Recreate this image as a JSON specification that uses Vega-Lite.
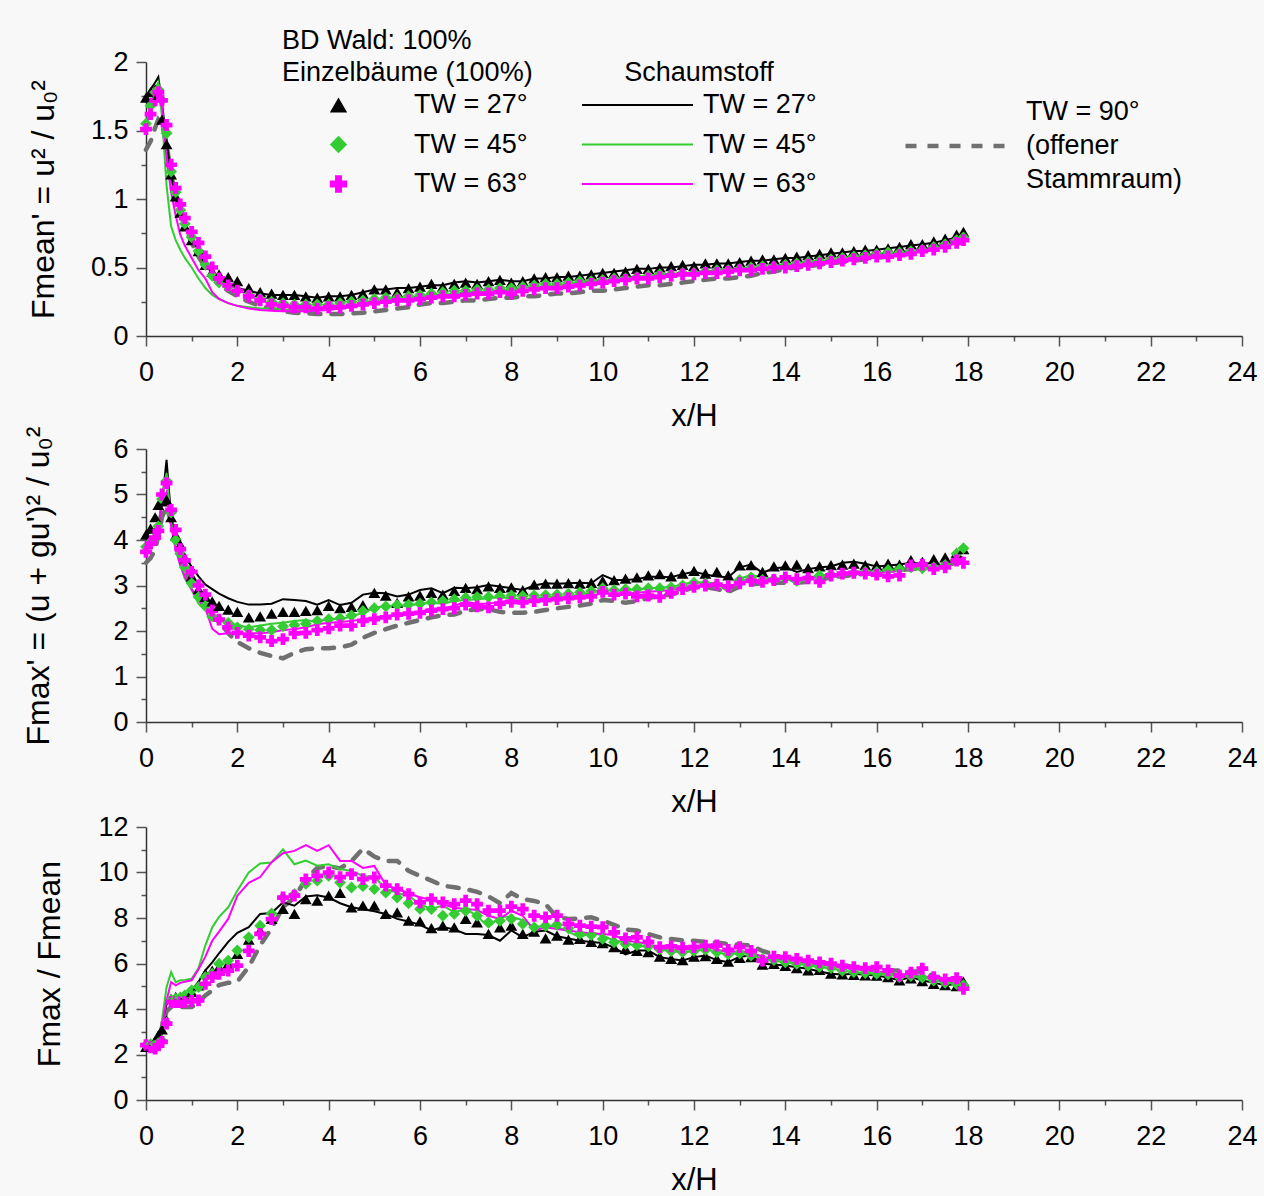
{
"$schema":"https://vega.github.io/schema/vega-lite/v6.json",
"background":"#f8f8f8",
"autosize":{"type":"none"},
"padding":{"left":146,"top":62,"right":1118,"bottom":1134},
"bounds":"flush",
"spacing":105,
"config":{"font":"Liberation Sans","view":{"stroke":null},
"axis":{"grid":false,"domainColor":"#333333","domainWidth":1.5,"tickColor":"#555555","tickWidth":1.5,"labelColor":"#000000","titleColor":"#000000","labelFontSize":27,"titleFontSize":31,"titleFontWeight":"normal","labelOverlap":false,"labelFlush":false,"format":"~g"},
"legend":{"labelFontSize":27,"titleFontSize":27,"titleFontWeight":"normal","labelColor":"#000000","titleColor":"#000000","labelLimit":400,"titleLimit":400}},
"resolve":{"scale":{"color":"independent","shape":"independent","stroke":"independent","strokeDash":"independent"}},
"datasets":{"all":[
{"p":1,"x":0,"E27":1.74,"E45":1.55,"E63":1.51,"S27":1.75,"S45":1.55,"S63":1.53,"S90":1.36},
{"p":1,"x":0.1,"E27":1.78,"E45":1.68,"E63":1.62,"S27":1.8,"S45":1.68,"S63":1.64,"S90":1.42},
{"p":1,"x":0.2,"E27":1.8,"E45":1.78,"E63":1.72,"S27":1.85,"S45":1.8,"S63":1.74,"S90":1.52},
{"p":1,"x":0.27,"E27":1.76,"E45":1.8,"E63":1.78,"S27":1.89,"S45":1.85,"S63":1.8,"S90":1.58},
{"p":1,"x":0.35,"E27":1.58,"E45":1.72,"E63":1.72,"S27":1.7,"S45":1.6,"S63":1.7,"S90":1.55},
{"p":1,"x":0.45,"E27":1.4,"E45":1.48,"E63":1.54,"S27":1.42,"S45":1.1,"S63":1.3,"S90":1.4},
{"p":1,"x":0.55,"E27":1.18,"E45":1.2,"E63":1.25,"S27":1.18,"S45":0.8,"S63":1.05,"S90":1.18},
{"p":1,"x":0.65,"E27":1.02,"E45":1.05,"E63":1.08,"S27":1.02,"S45":0.7,"S63":0.88,"S90":1.02},
{"p":1,"x":0.75,"E27":0.9,"E45":0.92,"E63":0.96,"S27":0.9,"S45":0.63,"S63":0.74,"S90":0.9},
{"p":1,"x":0.85,"E27":0.8,"E45":0.82,"E63":0.86,"S27":0.82,"S45":0.57,"S63":0.66,"S90":0.8},
{"p":1,"x":1,"E27":0.7,"E45":0.72,"E63":0.76,"S27":0.72,"S45":0.5,"S63":0.57,"S90":0.68},
{"p":1,"x":1.15,"E27":0.62,"E45":0.62,"E63":0.68,"S27":0.62,"S45":0.42,"S63":0.48,"S90":0.58},
{"p":1,"x":1.3,"E27":0.52,"E45":0.52,"E63":0.58,"S27":0.52,"S45":0.35,"S63":0.42,"S90":0.5},
{"p":1,"x":1.45,"E27":0.47,"E45":0.44,"E63":0.5,"S27":0.46,"S45":0.3,"S63":0.32,"S90":0.44},
{"p":1,"x":1.6,"E27":0.45,"E45":0.39,"E63":0.42,"S27":0.42,"S45":0.27,"S63":0.27,"S90":0.38},
{"p":1,"x":1.8,"E27":0.43,"E45":0.36,"E63":0.37,"S27":0.38,"S45":0.24,"S63":0.24,"S90":0.33},
{"p":1,"x":2,"E27":0.4,"E45":0.33,"E63":0.33,"S27":0.35,"S45":0.22,"S63":0.22,"S90":0.29},
{"p":1,"x":2.25,"E27":0.35,"E45":0.3,"E63":0.29,"S27":0.33,"S45":0.21,"S63":0.2,"S90":0.25},
{"p":1,"x":2.5,"E27":0.32,"E45":0.27,"E63":0.26,"S27":0.31,"S45":0.2,"S63":0.19,"S90":0.22},
{"p":1,"x":2.75,"E27":0.31,"E45":0.25,"E63":0.23,"S27":0.3,"S45":0.2,"S63":0.185,"S90":0.2},
{"p":1,"x":3,"E27":0.3,"E45":0.24,"E63":0.22,"S27":0.3,"S45":0.195,"S63":0.18,"S90":0.18},
{"p":1,"x":3.25,"E27":0.3,"E45":0.23,"E63":0.21,"S27":0.3,"S45":0.19,"S63":0.18,"S90":0.17},
{"p":1,"x":3.5,"E27":0.29,"E45":0.23,"E63":0.21,"S27":0.29,"S45":0.19,"S63":0.18,"S90":0.165},
{"p":1,"x":3.75,"E27":0.28,"E45":0.23,"E63":0.2,"S27":0.28,"S45":0.195,"S63":0.185,"S90":0.16},
{"p":1,"x":4,"E27":0.29,"E45":0.23,"E63":0.21,"S27":0.29,"S45":0.2,"S63":0.19,"S90":0.16},
{"p":1,"x":4.25,"E27":0.29,"E45":0.24,"E63":0.21,"S27":0.29,"S45":0.21,"S63":0.2,"S90":0.16},
{"p":1,"x":4.5,"E27":0.3,"E45":0.25,"E63":0.22,"S27":0.3,"S45":0.22,"S63":0.21,"S90":0.165},
{"p":1,"x":4.75,"E27":0.31,"E45":0.26,"E63":0.23,"S27":0.32,"S45":0.24,"S63":0.23,"S90":0.17},
{"p":1,"x":5,"E27":0.34,"E45":0.27,"E63":0.24,"S27":0.34,"S45":0.26,"S63":0.24,"S90":0.18},
{"p":1,"x":5.25,"E27":0.34,"E45":0.28,"E63":0.25,"S27":0.34,"S45":0.27,"S63":0.25,"S90":0.19},
{"p":1,"x":5.5,"E27":0.32,"E45":0.28,"E63":0.26,"S27":0.35,"S45":0.27,"S63":0.26,"S90":0.2},
{"p":1,"x":5.75,"E27":0.35,"E45":0.29,"E63":0.26,"S27":0.35,"S45":0.28,"S63":0.27,"S90":0.21},
{"p":1,"x":6,"E27":0.36,"E45":0.3,"E63":0.27,"S27":0.36,"S45":0.29,"S63":0.28,"S90":0.23},
{"p":1,"x":6.25,"E27":0.38,"E45":0.31,"E63":0.28,"S27":0.37,"S45":0.3,"S63":0.28,"S90":0.24},
{"p":1,"x":6.5,"E27":0.36,"E45":0.32,"E63":0.29,"S27":0.37,"S45":0.3,"S63":0.29,"S90":0.24},
{"p":1,"x":6.75,"E27":0.38,"E45":0.33,"E63":0.29,"S27":0.39,"S45":0.31,"S63":0.29,"S90":0.25},
{"p":1,"x":7,"E27":0.39,"E45":0.33,"E63":0.3,"S27":0.4,"S45":0.32,"S63":0.3,"S90":0.26},
{"p":1,"x":7.25,"E27":0.38,"E45":0.34,"E63":0.31,"S27":0.39,"S45":0.32,"S63":0.31,"S90":0.26},
{"p":1,"x":7.5,"E27":0.4,"E45":0.34,"E63":0.31,"S27":0.4,"S45":0.33,"S63":0.32,"S90":0.27},
{"p":1,"x":7.75,"E27":0.41,"E45":0.35,"E63":0.32,"S27":0.41,"S45":0.33,"S63":0.32,"S90":0.28},
{"p":1,"x":8,"E27":0.39,"E45":0.35,"E63":0.31,"S27":0.4,"S45":0.34,"S63":0.33,"S90":0.28},
{"p":1,"x":8.25,"E27":0.4,"E45":0.36,"E63":0.33,"S27":0.4,"S45":0.35,"S63":0.33,"S90":0.29},
{"p":1,"x":8.5,"E27":0.42,"E45":0.37,"E63":0.34,"S27":0.42,"S45":0.36,"S63":0.34,"S90":0.29},
{"p":1,"x":8.75,"E27":0.43,"E45":0.38,"E63":0.35,"S27":0.42,"S45":0.36,"S63":0.35,"S90":0.3},
{"p":1,"x":9,"E27":0.43,"E45":0.38,"E63":0.35,"S27":0.43,"S45":0.37,"S63":0.36,"S90":0.31},
{"p":1,"x":9.25,"E27":0.44,"E45":0.39,"E63":0.36,"S27":0.43,"S45":0.38,"S63":0.36,"S90":0.31},
{"p":1,"x":9.5,"E27":0.44,"E45":0.4,"E63":0.37,"S27":0.44,"S45":0.39,"S63":0.37,"S90":0.32},
{"p":1,"x":9.75,"E27":0.45,"E45":0.4,"E63":0.38,"S27":0.45,"S45":0.4,"S63":0.38,"S90":0.33},
{"p":1,"x":10,"E27":0.46,"E45":0.41,"E63":0.39,"S27":0.46,"S45":0.4,"S63":0.39,"S90":0.33},
{"p":1,"x":10.25,"E27":0.46,"E45":0.42,"E63":0.4,"S27":0.47,"S45":0.41,"S63":0.4,"S90":0.34},
{"p":1,"x":10.5,"E27":0.47,"E45":0.42,"E63":0.41,"S27":0.48,"S45":0.42,"S63":0.41,"S90":0.35},
{"p":1,"x":10.75,"E27":0.49,"E45":0.43,"E63":0.42,"S27":0.49,"S45":0.43,"S63":0.42,"S90":0.36},
{"p":1,"x":11,"E27":0.49,"E45":0.44,"E63":0.42,"S27":0.49,"S45":0.44,"S63":0.43,"S90":0.37},
{"p":1,"x":11.25,"E27":0.5,"E45":0.45,"E63":0.43,"S27":0.5,"S45":0.45,"S63":0.44,"S90":0.37},
{"p":1,"x":11.5,"E27":0.51,"E45":0.45,"E63":0.44,"S27":0.5,"S45":0.45,"S63":0.44,"S90":0.38},
{"p":1,"x":11.75,"E27":0.52,"E45":0.46,"E63":0.45,"S27":0.51,"S45":0.46,"S63":0.45,"S90":0.39},
{"p":1,"x":12,"E27":0.51,"E45":0.46,"E63":0.45,"S27":0.52,"S45":0.46,"S63":0.46,"S90":0.4},
{"p":1,"x":12.25,"E27":0.53,"E45":0.47,"E63":0.46,"S27":0.52,"S45":0.47,"S63":0.46,"S90":0.41},
{"p":1,"x":12.5,"E27":0.53,"E45":0.48,"E63":0.46,"S27":0.53,"S45":0.48,"S63":0.47,"S90":0.42},
{"p":1,"x":12.75,"E27":0.53,"E45":0.48,"E63":0.47,"S27":0.53,"S45":0.48,"S63":0.48,"S90":0.42},
{"p":1,"x":13,"E27":0.54,"E45":0.49,"E63":0.48,"S27":0.54,"S45":0.49,"S63":0.49,"S90":0.43},
{"p":1,"x":13.25,"E27":0.55,"E45":0.5,"E63":0.48,"S27":0.55,"S45":0.5,"S63":0.49,"S90":0.44},
{"p":1,"x":13.5,"E27":0.56,"E45":0.51,"E63":0.49,"S27":0.55,"S45":0.5,"S63":0.5,"S90":0.46},
{"p":1,"x":13.75,"E27":0.56,"E45":0.51,"E63":0.5,"S27":0.56,"S45":0.51,"S63":0.51,"S90":0.47},
{"p":1,"x":14,"E27":0.57,"E45":0.52,"E63":0.5,"S27":0.57,"S45":0.52,"S63":0.52,"S90":0.49},
{"p":1,"x":14.25,"E27":0.58,"E45":0.53,"E63":0.51,"S27":0.57,"S45":0.53,"S63":0.52,"S90":0.5},
{"p":1,"x":14.5,"E27":0.59,"E45":0.54,"E63":0.52,"S27":0.58,"S45":0.54,"S63":0.53,"S90":0.51},
{"p":1,"x":14.75,"E27":0.6,"E45":0.55,"E63":0.53,"S27":0.59,"S45":0.55,"S63":0.54,"S90":0.52},
{"p":1,"x":15,"E27":0.61,"E45":0.56,"E63":0.54,"S27":0.6,"S45":0.55,"S63":0.55,"S90":0.53},
{"p":1,"x":15.25,"E27":0.61,"E45":0.57,"E63":0.55,"S27":0.61,"S45":0.56,"S63":0.56,"S90":0.54},
{"p":1,"x":15.5,"E27":0.62,"E45":0.58,"E63":0.56,"S27":0.62,"S45":0.57,"S63":0.57,"S90":0.55},
{"p":1,"x":15.75,"E27":0.63,"E45":0.59,"E63":0.57,"S27":0.62,"S45":0.58,"S63":0.58,"S90":0.56},
{"p":1,"x":16,"E27":0.63,"E45":0.6,"E63":0.58,"S27":0.63,"S45":0.59,"S63":0.59,"S90":0.57},
{"p":1,"x":16.25,"E27":0.64,"E45":0.61,"E63":0.58,"S27":0.64,"S45":0.6,"S63":0.6,"S90":0.58},
{"p":1,"x":16.5,"E27":0.65,"E45":0.61,"E63":0.59,"S27":0.65,"S45":0.61,"S63":0.61,"S90":0.59},
{"p":1,"x":16.75,"E27":0.67,"E45":0.62,"E63":0.6,"S27":0.66,"S45":0.62,"S63":0.62,"S90":0.6},
{"p":1,"x":17,"E27":0.67,"E45":0.63,"E63":0.62,"S27":0.67,"S45":0.63,"S63":0.63,"S90":0.62},
{"p":1,"x":17.25,"E27":0.69,"E45":0.65,"E63":0.63,"S27":0.68,"S45":0.64,"S63":0.64,"S90":0.64},
{"p":1,"x":17.5,"E27":0.71,"E45":0.67,"E63":0.65,"S27":0.7,"S45":0.67,"S63":0.68,"S90":0.66},
{"p":1,"x":17.75,"E27":0.74,"E45":0.7,"E63":0.68,"S27":0.72,"S45":0.7,"S63":0.72,"S90":0.69},
{"p":1,"x":17.9,"E27":0.76,"E45":0.72,"E63":0.7,"S27":0.73,"S45":0.71,"S63":0.71,"S90":0.71},
{"p":2,"x":0,"E27":4.12,"E45":3.85,"E63":3.74,"S27":4.1,"S45":3.82,"S63":3.85,"S90":3.5},
{"p":2,"x":0.1,"E27":4.25,"E45":3.95,"E63":3.92,"S27":4.18,"S45":3.92,"S63":3.95,"S90":3.6},
{"p":2,"x":0.2,"E27":4.5,"E45":4.05,"E63":4.05,"S27":4.25,"S45":4.05,"S63":4.05,"S90":3.78},
{"p":2,"x":0.27,"E27":4.77,"E45":4.3,"E63":4.2,"S27":4.35,"S45":4.3,"S63":4.3,"S90":4.1},
{"p":2,"x":0.35,"E27":4.85,"E45":4.9,"E63":5.0,"S27":4.8,"S45":4.9,"S63":4.8,"S90":4.5},
{"p":2,"x":0.45,"E27":4.88,"E45":5.3,"E63":5.25,"S27":5.76,"S45":5.47,"S63":5.05,"S90":4.74},
{"p":2,"x":0.55,"E27":4.5,"E45":4.6,"E63":4.66,"S27":4.5,"S45":4.4,"S63":4.3,"S90":4.4},
{"p":2,"x":0.65,"E27":4.1,"E45":4.0,"E63":4.22,"S27":4.1,"S45":3.8,"S63":3.8,"S90":4.05},
{"p":2,"x":0.75,"E27":3.9,"E45":3.7,"E63":3.8,"S27":3.85,"S45":3.45,"S63":3.45,"S90":3.7},
{"p":2,"x":0.85,"E27":3.6,"E45":3.4,"E63":3.55,"S27":3.65,"S45":3.15,"S63":3.2,"S90":3.35},
{"p":2,"x":1,"E27":3.2,"E45":3.05,"E63":3.3,"S27":3.41,"S45":2.9,"S63":2.92,"S90":3.05},
{"p":2,"x":1.15,"E27":2.92,"E45":2.75,"E63":3.0,"S27":3.2,"S45":2.6,"S63":2.68,"S90":2.75},
{"p":2,"x":1.3,"E27":2.75,"E45":2.55,"E63":2.8,"S27":3.02,"S45":2.45,"S63":2.5,"S90":2.52},
{"p":2,"x":1.45,"E27":2.65,"E45":2.32,"E63":2.45,"S27":2.92,"S45":2.35,"S63":2.05,"S90":2.38},
{"p":2,"x":1.6,"E27":2.55,"E45":2.25,"E63":2.25,"S27":2.82,"S45":2.28,"S63":1.93,"S90":2.22},
{"p":2,"x":1.8,"E27":2.47,"E45":2.18,"E63":2.08,"S27":2.72,"S45":2.18,"S63":1.95,"S90":1.95},
{"p":2,"x":2,"E27":2.42,"E45":2.08,"E63":1.96,"S27":2.64,"S45":2.13,"S63":1.95,"S90":1.76},
{"p":2,"x":2.25,"E27":2.3,"E45":2.04,"E63":1.9,"S27":2.58,"S45":2.08,"S63":1.95,"S90":1.62},
{"p":2,"x":2.5,"E27":2.32,"E45":2.02,"E63":1.86,"S27":2.58,"S45":2.12,"S63":1.95,"S90":1.52},
{"p":2,"x":2.75,"E27":2.38,"E45":2.02,"E63":1.78,"S27":2.6,"S45":2.16,"S63":1.97,"S90":1.45},
{"p":2,"x":3,"E27":2.42,"E45":2.1,"E63":1.82,"S27":2.7,"S45":2.18,"S63":2.02,"S90":1.4},
{"p":2,"x":3.25,"E27":2.42,"E45":2.13,"E63":1.95,"S27":2.68,"S45":2.22,"S63":2.04,"S90":1.52},
{"p":2,"x":3.5,"E27":2.44,"E45":2.16,"E63":1.96,"S27":2.66,"S45":2.24,"S63":2.08,"S90":1.6},
{"p":2,"x":3.75,"E27":2.46,"E45":2.22,"E63":2.02,"S27":2.58,"S45":2.2,"S63":2.15,"S90":1.62},
{"p":2,"x":4,"E27":2.55,"E45":2.26,"E63":2.06,"S27":2.68,"S45":2.27,"S63":2.18,"S90":1.62},
{"p":2,"x":4.25,"E27":2.5,"E45":2.28,"E63":2.12,"S27":2.57,"S45":2.26,"S63":2.2,"S90":1.64},
{"p":2,"x":4.5,"E27":2.53,"E45":2.34,"E63":2.12,"S27":2.62,"S45":2.32,"S63":2.22,"S90":1.7},
{"p":2,"x":4.75,"E27":2.57,"E45":2.44,"E63":2.22,"S27":2.8,"S45":2.4,"S63":2.26,"S90":1.85},
{"p":2,"x":5,"E27":2.84,"E45":2.5,"E63":2.26,"S27":2.84,"S45":2.5,"S63":2.3,"S90":1.96},
{"p":2,"x":5.25,"E27":2.78,"E45":2.54,"E63":2.3,"S27":2.83,"S45":2.56,"S63":2.33,"S90":2.04},
{"p":2,"x":5.5,"E27":2.62,"E45":2.57,"E63":2.36,"S27":2.76,"S45":2.54,"S63":2.36,"S90":2.12},
{"p":2,"x":5.75,"E27":2.76,"E45":2.58,"E63":2.38,"S27":2.8,"S45":2.56,"S63":2.38,"S90":2.18},
{"p":2,"x":6,"E27":2.78,"E45":2.6,"E63":2.4,"S27":2.9,"S45":2.6,"S63":2.42,"S90":2.24},
{"p":2,"x":6.25,"E27":2.84,"E45":2.63,"E63":2.45,"S27":2.94,"S45":2.62,"S63":2.49,"S90":2.3},
{"p":2,"x":6.5,"E27":2.8,"E45":2.66,"E63":2.48,"S27":2.83,"S45":2.6,"S63":2.5,"S90":2.35},
{"p":2,"x":6.75,"E27":2.88,"E45":2.7,"E63":2.5,"S27":2.95,"S45":2.66,"S63":2.55,"S90":2.36},
{"p":2,"x":7,"E27":2.95,"E45":2.73,"E63":2.58,"S27":2.94,"S45":2.68,"S63":2.64,"S90":2.45},
{"p":2,"x":7.25,"E27":2.92,"E45":2.75,"E63":2.54,"S27":2.96,"S45":2.7,"S63":2.6,"S90":2.48},
{"p":2,"x":7.5,"E27":2.98,"E45":2.75,"E63":2.52,"S27":3.01,"S45":2.72,"S63":2.6,"S90":2.48},
{"p":2,"x":7.75,"E27":2.95,"E45":2.77,"E63":2.6,"S27":2.98,"S45":2.74,"S63":2.64,"S90":2.42},
{"p":2,"x":8,"E27":2.96,"E45":2.78,"E63":2.64,"S27":2.94,"S45":2.72,"S63":2.68,"S90":2.4},
{"p":2,"x":8.25,"E27":2.9,"E45":2.77,"E63":2.63,"S27":2.9,"S45":2.7,"S63":2.64,"S90":2.4},
{"p":2,"x":8.5,"E27":3.02,"E45":2.78,"E63":2.66,"S27":3.0,"S45":2.72,"S63":2.66,"S90":2.42},
{"p":2,"x":8.75,"E27":3.04,"E45":2.79,"E63":2.68,"S27":3.05,"S45":2.75,"S63":2.68,"S90":2.46},
{"p":2,"x":9,"E27":3.04,"E45":2.8,"E63":2.7,"S27":3.04,"S45":2.76,"S63":2.7,"S90":2.5},
{"p":2,"x":9.25,"E27":3.05,"E45":2.82,"E63":2.72,"S27":3.05,"S45":2.76,"S63":2.72,"S90":2.53},
{"p":2,"x":9.5,"E27":3.04,"E45":2.85,"E63":2.74,"S27":3.06,"S45":2.8,"S63":2.75,"S90":2.56},
{"p":2,"x":9.75,"E27":3.06,"E45":2.88,"E63":2.76,"S27":3.05,"S45":2.84,"S63":2.78,"S90":2.6},
{"p":2,"x":10,"E27":3.1,"E45":2.94,"E63":2.86,"S27":3.23,"S45":2.9,"S63":2.83,"S90":2.68},
{"p":2,"x":10.25,"E27":3.12,"E45":2.9,"E63":2.8,"S27":3.12,"S45":2.88,"S63":2.8,"S90":2.66},
{"p":2,"x":10.5,"E27":3.15,"E45":2.92,"E63":2.82,"S27":3.12,"S45":2.9,"S63":2.82,"S90":2.62},
{"p":2,"x":10.75,"E27":3.18,"E45":2.92,"E63":2.76,"S27":3.14,"S45":2.92,"S63":2.84,"S90":2.66},
{"p":2,"x":11,"E27":3.22,"E45":2.94,"E63":2.78,"S27":3.19,"S45":2.94,"S63":2.86,"S90":2.72},
{"p":2,"x":11.25,"E27":3.25,"E45":2.94,"E63":2.75,"S27":3.19,"S45":2.95,"S63":2.88,"S90":2.78},
{"p":2,"x":11.5,"E27":3.2,"E45":2.96,"E63":2.84,"S27":3.18,"S45":2.97,"S63":2.9,"S90":2.8},
{"p":2,"x":11.75,"E27":3.26,"E45":3.0,"E63":2.92,"S27":3.25,"S45":3.02,"S63":2.95,"S90":2.88},
{"p":2,"x":12,"E27":3.32,"E45":3.06,"E63":2.97,"S27":3.3,"S45":3.08,"S63":2.98,"S90":2.96},
{"p":2,"x":12.25,"E27":3.26,"E45":3.04,"E63":3.0,"S27":3.24,"S45":3.06,"S63":3.0,"S90":2.96},
{"p":2,"x":12.5,"E27":3.3,"E45":3.02,"E63":3.02,"S27":3.2,"S45":3.04,"S63":3.02,"S90":2.92},
{"p":2,"x":12.75,"E27":3.22,"E45":2.96,"E63":2.98,"S27":3.18,"S45":2.86,"S63":2.95,"S90":2.86},
{"p":2,"x":13,"E27":3.44,"E45":3.12,"E63":3.05,"S27":3.4,"S45":3.15,"S63":3.05,"S90":2.98},
{"p":2,"x":13.25,"E27":3.45,"E45":3.18,"E63":3.1,"S27":3.46,"S45":3.23,"S63":3.1,"S90":3.02},
{"p":2,"x":13.5,"E27":3.3,"E45":3.12,"E63":3.08,"S27":3.28,"S45":3.18,"S63":3.12,"S90":3.05},
{"p":2,"x":13.75,"E27":3.42,"E45":3.14,"E63":3.12,"S27":3.38,"S45":3.14,"S63":3.14,"S90":3.06},
{"p":2,"x":14,"E27":3.44,"E45":3.16,"E63":3.18,"S27":3.4,"S45":3.16,"S63":3.16,"S90":3.06},
{"p":2,"x":14.25,"E27":3.46,"E45":3.1,"E63":3.14,"S27":3.3,"S45":3.05,"S63":3.12,"S90":3.06},
{"p":2,"x":14.5,"E27":3.38,"E45":3.16,"E63":3.16,"S27":3.36,"S45":3.14,"S63":3.16,"S90":3.08},
{"p":2,"x":14.75,"E27":3.42,"E45":3.22,"E63":3.08,"S27":3.4,"S45":3.22,"S63":3.18,"S90":3.12},
{"p":2,"x":15,"E27":3.45,"E45":3.24,"E63":3.22,"S27":3.42,"S45":3.24,"S63":3.22,"S90":3.18},
{"p":2,"x":15.25,"E27":3.46,"E45":3.26,"E63":3.26,"S27":3.5,"S45":3.26,"S63":3.25,"S90":3.21},
{"p":2,"x":15.5,"E27":3.48,"E45":3.28,"E63":3.28,"S27":3.52,"S45":3.28,"S63":3.28,"S90":3.23},
{"p":2,"x":15.75,"E27":3.45,"E45":3.3,"E63":3.26,"S27":3.48,"S45":3.3,"S63":3.28,"S90":3.26},
{"p":2,"x":16,"E27":3.44,"E45":3.3,"E63":3.24,"S27":3.42,"S45":3.3,"S63":3.28,"S90":3.3},
{"p":2,"x":16.25,"E27":3.48,"E45":3.34,"E63":3.2,"S27":3.44,"S45":3.35,"S63":3.3,"S90":3.32},
{"p":2,"x":16.5,"E27":3.46,"E45":3.36,"E63":3.22,"S27":3.46,"S45":3.38,"S63":3.32,"S90":3.34},
{"p":2,"x":16.75,"E27":3.56,"E45":3.4,"E63":3.44,"S27":3.5,"S45":3.36,"S63":3.4,"S90":3.36},
{"p":2,"x":17,"E27":3.52,"E45":3.38,"E63":3.46,"S27":3.48,"S45":3.34,"S63":3.42,"S90":3.38},
{"p":2,"x":17.25,"E27":3.58,"E45":3.4,"E63":3.36,"S27":3.5,"S45":3.4,"S63":3.4,"S90":3.4},
{"p":2,"x":17.5,"E27":3.62,"E45":3.45,"E63":3.4,"S27":3.42,"S45":3.42,"S63":3.44,"S90":3.45},
{"p":2,"x":17.75,"E27":3.72,"E45":3.7,"E63":3.55,"S27":3.66,"S45":3.68,"S63":3.6,"S90":3.5},
{"p":2,"x":17.9,"E27":3.8,"E45":3.82,"E63":3.5,"S27":3.76,"S45":3.8,"S63":3.62,"S90":3.52},
{"p":3,"x":0,"E27":2.34,"E45":2.41,"E63":2.41,"S27":2.34,"S45":2.41,"S63":2.34,"S90":2.45},
{"p":3,"x":0.1,"E27":2.4,"E45":2.45,"E63":2.32,"S27":2.3,"S45":2.45,"S63":2.3,"S90":2.4},
{"p":3,"x":0.2,"E27":2.6,"E45":2.45,"E63":2.26,"S27":2.28,"S45":2.45,"S63":2.3,"S90":2.36},
{"p":3,"x":0.27,"E27":2.85,"E45":2.5,"E63":2.4,"S27":2.26,"S45":2.48,"S63":2.32,"S90":2.36},
{"p":3,"x":0.35,"E27":3.1,"E45":2.6,"E63":2.55,"S27":3.4,"S45":3.5,"S63":3.2,"S90":3.2},
{"p":3,"x":0.45,"E27":3.5,"E45":3.4,"E63":3.36,"S27":4.2,"S45":4.96,"S63":4.38,"S90":3.9},
{"p":3,"x":0.55,"E27":4.45,"E45":4.4,"E63":4.31,"S27":4.4,"S45":5.62,"S63":5.18,"S90":4.09},
{"p":3,"x":0.65,"E27":4.53,"E45":4.45,"E63":4.3,"S27":4.45,"S45":5.18,"S63":5.04,"S90":4.09},
{"p":3,"x":0.75,"E27":4.53,"E45":4.5,"E63":4.3,"S27":4.45,"S45":5.26,"S63":5.15,"S90":4.09},
{"p":3,"x":0.85,"E27":4.55,"E45":4.6,"E63":4.31,"S27":4.48,"S45":5.28,"S63":5.2,"S90":4.09},
{"p":3,"x":1,"E27":4.74,"E45":4.82,"E63":4.35,"S27":4.82,"S45":5.33,"S63":5.26,"S90":4.09},
{"p":3,"x":1.15,"E27":5.04,"E45":4.96,"E63":4.38,"S27":5.2,"S45":5.8,"S63":5.75,"S90":4.3},
{"p":3,"x":1.3,"E27":5.55,"E45":5.4,"E63":5.11,"S27":5.7,"S45":6.8,"S63":6.3,"S90":4.6},
{"p":3,"x":1.45,"E27":5.69,"E45":5.55,"E63":5.4,"S27":6.05,"S45":7.59,"S63":7.0,"S90":4.82},
{"p":3,"x":1.6,"E27":5.84,"E45":5.99,"E63":5.55,"S27":6.45,"S45":8.05,"S63":7.4,"S90":5.05},
{"p":3,"x":1.8,"E27":5.99,"E45":6.13,"E63":5.69,"S27":6.95,"S45":8.47,"S63":7.96,"S90":5.15},
{"p":3,"x":2,"E27":6.42,"E45":6.57,"E63":5.91,"S27":7.35,"S45":9.2,"S63":8.98,"S90":5.2},
{"p":3,"x":2.25,"E27":7.05,"E45":7.15,"E63":6.55,"S27":7.6,"S45":10.0,"S63":9.55,"S90":5.85},
{"p":3,"x":2.5,"E27":7.45,"E45":7.66,"E63":7.3,"S27":8.18,"S45":10.4,"S63":9.8,"S90":6.8},
{"p":3,"x":2.75,"E27":7.96,"E45":8.2,"E63":7.95,"S27":8.22,"S45":10.44,"S63":10.45,"S90":7.55},
{"p":3,"x":3,"E27":8.4,"E45":8.9,"E63":8.9,"S27":8.69,"S45":11.02,"S63":10.85,"S90":8.47},
{"p":3,"x":3.25,"E27":8.18,"E45":9.05,"E63":8.98,"S27":8.54,"S45":10.36,"S63":10.95,"S90":8.9},
{"p":3,"x":3.5,"E27":8.83,"E45":9.5,"E63":9.7,"S27":8.95,"S45":10.52,"S63":11.2,"S90":9.7},
{"p":3,"x":3.75,"E27":8.76,"E45":9.64,"E63":9.85,"S27":9.0,"S45":10.3,"S63":10.95,"S90":10.2},
{"p":3,"x":4,"E27":8.98,"E45":9.85,"E63":10.0,"S27":8.9,"S45":10.36,"S63":11.2,"S90":10.28},
{"p":3,"x":4.25,"E27":9.1,"E45":9.56,"E63":9.8,"S27":8.65,"S45":10.15,"S63":10.51,"S90":10.18},
{"p":3,"x":4.5,"E27":8.47,"E45":9.34,"E63":9.93,"S27":8.47,"S45":10.07,"S63":10.51,"S90":10.5},
{"p":3,"x":4.75,"E27":8.54,"E45":9.4,"E63":9.71,"S27":8.38,"S45":9.85,"S63":10.2,"S90":11.05},
{"p":3,"x":5,"E27":8.54,"E45":9.27,"E63":9.78,"S27":8.3,"S45":9.8,"S63":10.29,"S90":10.7},
{"p":3,"x":5.25,"E27":8.18,"E45":9.12,"E63":9.42,"S27":8.18,"S45":9.3,"S63":9.45,"S90":10.51},
{"p":3,"x":5.5,"E27":8.25,"E45":8.9,"E63":9.27,"S27":7.96,"S45":9.1,"S63":9.27,"S90":10.51},
{"p":3,"x":5.75,"E27":7.88,"E45":8.65,"E63":9.05,"S27":7.85,"S45":8.98,"S63":9.1,"S90":10.07},
{"p":3,"x":6,"E27":7.85,"E45":8.4,"E63":8.69,"S27":7.7,"S45":8.6,"S63":8.9,"S90":9.85},
{"p":3,"x":6.25,"E27":7.55,"E45":8.39,"E63":8.83,"S27":7.45,"S45":8.4,"S63":8.8,"S90":9.64},
{"p":3,"x":6.5,"E27":7.66,"E45":8.1,"E63":8.69,"S27":7.6,"S45":8.55,"S63":8.6,"S90":9.42},
{"p":3,"x":6.75,"E27":7.59,"E45":8.18,"E63":8.61,"S27":7.5,"S45":8.25,"S63":8.45,"S90":9.35},
{"p":3,"x":7,"E27":7.96,"E45":8.32,"E63":8.76,"S27":7.3,"S45":8.39,"S63":8.4,"S90":9.27},
{"p":3,"x":7.25,"E27":7.81,"E45":8.1,"E63":8.61,"S27":7.3,"S45":8.1,"S63":8.35,"S90":9.15},
{"p":3,"x":7.5,"E27":7.3,"E45":7.81,"E63":8.32,"S27":7.25,"S45":7.6,"S63":8.1,"S90":8.95},
{"p":3,"x":7.75,"E27":7.59,"E45":7.88,"E63":8.32,"S27":7.0,"S45":8.05,"S63":7.96,"S90":8.65},
{"p":3,"x":8,"E27":7.66,"E45":7.96,"E63":8.5,"S27":7.45,"S45":8.05,"S63":8.32,"S90":9.1},
{"p":3,"x":8.25,"E27":7.3,"E45":7.74,"E63":8.39,"S27":7.15,"S45":7.9,"S63":8.1,"S90":8.83},
{"p":3,"x":8.5,"E27":7.4,"E45":7.59,"E63":8.1,"S27":7.4,"S45":7.59,"S63":7.45,"S90":8.75},
{"p":3,"x":8.75,"E27":7.1,"E45":7.66,"E63":8.03,"S27":7.45,"S45":7.66,"S63":7.59,"S90":8.61},
{"p":3,"x":9,"E27":7.23,"E45":7.7,"E63":8.1,"S27":7.2,"S45":7.62,"S63":7.52,"S90":8.03},
{"p":3,"x":9.25,"E27":7.05,"E45":7.55,"E63":7.74,"S27":7.1,"S45":7.4,"S63":7.45,"S90":7.96},
{"p":3,"x":9.5,"E27":7.08,"E45":7.3,"E63":7.66,"S27":7.0,"S45":7.15,"S63":7.37,"S90":7.98},
{"p":3,"x":9.75,"E27":6.95,"E45":7.25,"E63":7.62,"S27":6.95,"S45":7.37,"S63":7.33,"S90":8.03},
{"p":3,"x":10,"E27":6.9,"E45":7.08,"E63":7.6,"S27":6.9,"S45":7.23,"S63":7.3,"S90":7.88},
{"p":3,"x":10.25,"E27":6.72,"E45":6.93,"E63":7.37,"S27":6.7,"S45":7.0,"S63":7.25,"S90":7.7},
{"p":3,"x":10.5,"E27":6.64,"E45":6.85,"E63":7.1,"S27":6.4,"S45":6.95,"S63":7.0,"S90":7.5},
{"p":3,"x":10.75,"E27":6.55,"E45":6.8,"E63":7.15,"S27":6.57,"S45":6.72,"S63":6.95,"S90":7.45},
{"p":3,"x":11,"E27":6.5,"E45":6.75,"E63":6.95,"S27":6.57,"S45":6.8,"S63":6.85,"S90":7.3},
{"p":3,"x":11.25,"E27":6.3,"E45":6.62,"E63":6.72,"S27":6.28,"S45":6.6,"S63":6.7,"S90":7.15},
{"p":3,"x":11.5,"E27":6.2,"E45":6.55,"E63":6.75,"S27":6.2,"S45":6.55,"S63":6.62,"S90":7.08},
{"p":3,"x":11.75,"E27":6.15,"E45":6.5,"E63":6.7,"S27":6.13,"S45":6.48,"S63":6.6,"S90":7.02},
{"p":3,"x":12,"E27":6.3,"E45":6.55,"E63":6.72,"S27":6.28,"S45":6.55,"S63":6.65,"S90":7.0},
{"p":3,"x":12.25,"E27":6.32,"E45":6.6,"E63":6.78,"S27":6.35,"S45":6.62,"S63":6.72,"S90":6.95},
{"p":3,"x":12.5,"E27":6.2,"E45":6.5,"E63":6.79,"S27":6.15,"S45":6.5,"S63":6.62,"S90":6.92},
{"p":3,"x":12.75,"E27":6.08,"E45":6.4,"E63":6.6,"S27":6.06,"S45":6.38,"S63":6.5,"S90":6.86},
{"p":3,"x":13,"E27":6.25,"E45":6.45,"E63":6.72,"S27":6.3,"S45":6.48,"S63":6.55,"S90":6.82},
{"p":3,"x":13.25,"E27":6.28,"E45":6.35,"E63":6.55,"S27":6.35,"S45":6.4,"S63":6.48,"S90":6.79},
{"p":3,"x":13.5,"E27":5.95,"E45":6.2,"E63":6.13,"S27":5.99,"S45":6.2,"S63":6.3,"S90":6.55},
{"p":3,"x":13.75,"E27":5.98,"E45":6.15,"E63":6.3,"S27":5.96,"S45":6.12,"S63":6.2,"S90":6.4},
{"p":3,"x":14,"E27":5.9,"E45":6.05,"E63":6.28,"S27":5.91,"S45":6.05,"S63":6.15,"S90":6.2},
{"p":3,"x":14.25,"E27":5.8,"E45":5.98,"E63":6.2,"S27":5.84,"S45":6.0,"S63":6.1,"S90":6.13},
{"p":3,"x":14.5,"E27":5.7,"E45":5.9,"E63":6.13,"S27":5.77,"S45":5.92,"S63":6.02,"S90":6.08},
{"p":3,"x":14.75,"E27":5.72,"E45":5.85,"E63":6.05,"S27":5.65,"S45":5.85,"S63":5.95,"S90":6.04},
{"p":3,"x":15,"E27":5.55,"E45":5.8,"E63":5.99,"S27":5.55,"S45":5.78,"S63":5.9,"S90":5.99},
{"p":3,"x":15.25,"E27":5.52,"E45":5.68,"E63":5.9,"S27":5.52,"S45":5.7,"S63":5.82,"S90":5.92},
{"p":3,"x":15.5,"E27":5.5,"E45":5.62,"E63":5.84,"S27":5.55,"S45":5.62,"S63":5.75,"S90":5.85},
{"p":3,"x":15.75,"E27":5.48,"E45":5.58,"E63":5.8,"S27":5.5,"S45":5.58,"S63":5.7,"S90":5.78},
{"p":3,"x":16,"E27":5.47,"E45":5.55,"E63":5.84,"S27":5.47,"S45":5.55,"S63":5.65,"S90":5.69},
{"p":3,"x":16.25,"E27":5.4,"E45":5.52,"E63":5.7,"S27":5.38,"S45":5.52,"S63":5.6,"S90":5.69},
{"p":3,"x":16.5,"E27":5.26,"E45":5.4,"E63":5.47,"S27":5.26,"S45":5.42,"S63":5.5,"S90":5.69},
{"p":3,"x":16.75,"E27":5.35,"E45":5.45,"E63":5.6,"S27":5.4,"S45":5.48,"S63":5.52,"S90":5.66},
{"p":3,"x":17,"E27":5.22,"E45":5.38,"E63":5.77,"S27":5.25,"S45":5.38,"S63":5.45,"S90":5.62},
{"p":3,"x":17.25,"E27":5.1,"E45":5.25,"E63":5.4,"S27":5.16,"S45":5.28,"S63":5.35,"S90":5.45},
{"p":3,"x":17.5,"E27":5.05,"E45":5.15,"E63":5.3,"S27":5.04,"S45":5.15,"S63":5.22,"S90":5.26},
{"p":3,"x":17.75,"E27":5.0,"E45":5.1,"E63":5.35,"S27":5.1,"S45":5.2,"S63":5.18,"S90":5.18},
{"p":3,"x":17.9,"E27":5.2,"E45":5.05,"E63":4.89,"S27":5.26,"S45":5.25,"S63":5.3,"S90":5.18}
]},
"vconcat":[
{"width":1096,"height":274,"data":{"name":"all"},
"transform":[{"filter":"datum.p == 1"},{"fold":["E27","E45","E63","S27","S45","S63","S90"],"as":["s","v"]}],
"resolve":{"axis":{"x":"independent","y":"independent"}},
"layer":[
{"transform":[{"filter":"datum.s == 'S90'"}],
"mark":{"type":"line","color":"#707070","strokeWidth":4.5,"strokeCap":"round"},
"encoding":{
"x":{"field":"x","type":"quantitative","scale":{"domain":[0,24],"nice":false},"axis":{"orient":"bottom","values":[1,3,5,7,9,11,13,15,17,19,21,23],"labels":false,"tickSize":5,"domain":false,"title":null}},
"y":{"field":"v","type":"quantitative","scale":{"domain":[0,2],"nice":false},"axis":{"orient":"left","values":[0.25,0.75,1.25,1.75],"labels":false,"tickSize":5,"domain":false,"title":null}},
"strokeDash":{"field":"s","type":"nominal","scale":{"domain":["S90"],"range":[[11,11]]},"legend":{"orient":"none","legendX":757,"legendY":69,"direction":"vertical","title":null,"symbolType":"stroke","symbolSize":11449,"symbolStrokeWidth":4.5,"symbolStrokeColor":"#707070","labelExpr":"['TW = 90°','(offener','Stammraum)']","clipHeight":30,"labelOffset":11,"encode":{"labels":{"update":{"lineHeight":{"value":34},"dy":{"value":-34}}}}}}}},
{"transform":[{"filter":"datum.s == 'S27' || datum.s == 'S45' || datum.s == 'S63'"}],
"mark":{"type":"line","strokeWidth":2},
"encoding":{
"x":{"field":"x","type":"quantitative","scale":{"domain":[0,24],"nice":false},"axis":{"orient":"bottom","values":[0,2,4,6,8,10,12,14,16,18,20,22,24],"tickSize":10,"labelPadding":13,"title":"x/H","titleY":89,"titleBaseline":"alphabetic"}},
"y":{"field":"v","type":"quantitative","scale":{"domain":[0,2],"nice":false},"axis":{"orient":"left","values":[0,0.5,1,1.5,2],"tickSize":10,"labelPadding":8,"title":"Fmean' = u² / u₀²","titleX":-93,"titleBaseline":"alphabetic","titleFontSize":32}},
"stroke":{"field":"s","type":"nominal","scale":{"domain":["S27","S45","S63"],"range":["#000000","#33cc33","#ff00ff"]},"legend":{"orient":"none","legendX":435,"legendY":-2,"direction":"vertical","title":"Schaumstoff","titleAnchor":"middle","titlePadding":3,"symbolType":"stroke","symbolSize":12321,"symbolStrokeWidth":2,"symbolOffset":0,"labelOffset":9,"clipHeight":30,"rowPadding":9.5,"labelExpr":"'TW = ' + slice(datum.label, 1) + '°'"}}}},
{"transform":[{"filter":"datum.s == 'E27' || datum.s == 'E45' || datum.s == 'E63'"}],
"mark":{"type":"point","filled":true,"opacity":1,"size":140},
"encoding":{
"x":{"field":"x","type":"quantitative","scale":{"domain":[0,24],"nice":false},"axis":null},
"y":{"field":"v","type":"quantitative","scale":{"domain":[0,2],"nice":false},"axis":null},
"color":{"field":"s","type":"nominal","scale":{"domain":["E27","E45","E63"],"range":["#000000","#33cc33","#ff00ff"]},"legend":{"orient":"none","legendX":136,"legendY":-34,"direction":"vertical","title":["BD Wald: 100%","Einzelbäume (100%)"],"titleLineHeight":32,"titlePadding":3,"titleAnchor":"start","symbolSize":300,"symbolOffset":43,"labelOffset":62,"clipHeight":30,"rowPadding":9.5,"labelExpr":"'TW = ' + slice(datum.label, 1) + '°'"}},
"shape":{"field":"s","type":"nominal","scale":{"domain":["E27","E45","E63"],"range":["triangle-up","diamond","cross"]},"legend":{"orient":"none","legendX":136,"legendY":-34,"direction":"vertical","title":["BD Wald: 100%","Einzelbäume (100%)"],"titleLineHeight":32,"titlePadding":3,"titleAnchor":"start","symbolSize":300,"symbolOffset":43,"labelOffset":62,"clipHeight":30,"rowPadding":9.5,"labelExpr":"'TW = ' + slice(datum.label, 1) + '°'"}}}}
]},
{"width":1096,"height":281,"data":{"name":"all"},
"transform":[{"filter":"datum.p == 2"},{"fold":["E27","E45","E63","S27","S45","S63","S90"],"as":["s","v"]}],
"resolve":{"axis":{"x":"independent","y":"independent"}},
"layer":[
{"transform":[{"filter":"datum.s == 'S90'"}],
"mark":{"type":"line","color":"#707070","strokeWidth":4.5,"strokeCap":"round","strokeDash":[11,11]},
"encoding":{
"x":{"field":"x","type":"quantitative","scale":{"domain":[0,24],"nice":false},"axis":{"orient":"bottom","values":[1,3,5,7,9,11,13,15,17,19,21,23],"labels":false,"tickSize":5,"domain":false,"title":null}},
"y":{"field":"v","type":"quantitative","scale":{"domain":[0,6],"nice":false,"range":[281,8]},"axis":{"orient":"left","values":[0.5,1.5,2.5,3.5,4.5,5.5],"labels":false,"tickSize":5,"domain":false,"title":null}}}},
{"transform":[{"filter":"datum.s == 'S27' || datum.s == 'S45' || datum.s == 'S63'"}],
"mark":{"type":"line","strokeWidth":2},
"encoding":{
"x":{"field":"x","type":"quantitative","scale":{"domain":[0,24],"nice":false},"axis":{"orient":"bottom","values":[0,2,4,6,8,10,12,14,16,18,20,22,24],"tickSize":10,"labelPadding":13,"title":"x/H","titleY":89,"titleBaseline":"alphabetic"}},
"y":{"field":"v","type":"quantitative","scale":{"domain":[0,6],"nice":false,"range":[281,8]},"axis":{"orient":"left","values":[0,1,2,3,4,5,6],"tickSize":10,"labelPadding":8,"title":"Fmax' = (u + gu')² / u₀²","titleX":-98,"titleBaseline":"alphabetic","titleFontSize":32}},
"stroke":{"field":"s","type":"nominal","scale":{"domain":["S27","S45","S63"],"range":["#000000","#33cc33","#ff00ff"]},"legend":null}}},
{"transform":[{"filter":"datum.s == 'E27' || datum.s == 'E45' || datum.s == 'E63'"}],
"mark":{"type":"point","filled":true,"opacity":1,"size":140},
"encoding":{
"x":{"field":"x","type":"quantitative","scale":{"domain":[0,24],"nice":false},"axis":null},
"y":{"field":"v","type":"quantitative","scale":{"domain":[0,6],"nice":false,"range":[281,8]},"axis":null},
"color":{"field":"s","type":"nominal","scale":{"domain":["E27","E45","E63"],"range":["#000000","#33cc33","#ff00ff"]},"legend":null},
"shape":{"field":"s","type":"nominal","scale":{"domain":["E27","E45","E63"],"range":["triangle-up","diamond","cross"]},"legend":null}}}
]},
{"width":1096,"height":273,"data":{"name":"all"},
"transform":[{"filter":"datum.p == 3"},{"fold":["E27","E45","E63","S27","S45","S63","S90"],"as":["s","v"]}],
"resolve":{"axis":{"x":"independent","y":"independent"}},
"layer":[
{"transform":[{"filter":"datum.s == 'S90'"}],
"mark":{"type":"line","color":"#707070","strokeWidth":4.5,"strokeCap":"round","strokeDash":[11,11]},
"encoding":{
"x":{"field":"x","type":"quantitative","scale":{"domain":[0,24],"nice":false},"axis":{"orient":"bottom","values":[1,3,5,7,9,11,13,15,17,19,21,23],"labels":false,"tickSize":5,"domain":false,"title":null}},
"y":{"field":"v","type":"quantitative","scale":{"domain":[0,12],"nice":false},"axis":{"orient":"left","values":[1,3,5,7,9,11],"labels":false,"tickSize":5,"domain":false,"title":null}}}},
{"transform":[{"filter":"datum.s == 'S27' || datum.s == 'S45' || datum.s == 'S63'"}],
"mark":{"type":"line","strokeWidth":2},
"encoding":{
"x":{"field":"x","type":"quantitative","scale":{"domain":[0,24],"nice":false},"axis":{"orient":"bottom","values":[0,2,4,6,8,10,12,14,16,18,20,22,24],"tickSize":10,"labelPadding":13,"title":"x/H","titleY":89,"titleBaseline":"alphabetic"}},
"y":{"field":"v","type":"quantitative","scale":{"domain":[0,12],"nice":false},"axis":{"orient":"left","values":[0,2,4,6,8,10,12],"tickSize":10,"labelPadding":8,"title":"Fmax / Fmean","titleX":-87,"titleBaseline":"alphabetic","titleFontSize":32}},
"stroke":{"field":"s","type":"nominal","scale":{"domain":["S27","S45","S63"],"range":["#000000","#33cc33","#ff00ff"]},"legend":null}}},
{"transform":[{"filter":"datum.s == 'E27' || datum.s == 'E45' || datum.s == 'E63'"}],
"mark":{"type":"point","filled":true,"opacity":1,"size":140},
"encoding":{
"x":{"field":"x","type":"quantitative","scale":{"domain":[0,24],"nice":false},"axis":null},
"y":{"field":"v","type":"quantitative","scale":{"domain":[0,12],"nice":false},"axis":null},
"color":{"field":"s","type":"nominal","scale":{"domain":["E27","E45","E63"],"range":["#000000","#33cc33","#ff00ff"]},"legend":null},
"shape":{"field":"s","type":"nominal","scale":{"domain":["E27","E45","E63"],"range":["triangle-up","diamond","cross"]},"legend":null}}}
]}
]
}
